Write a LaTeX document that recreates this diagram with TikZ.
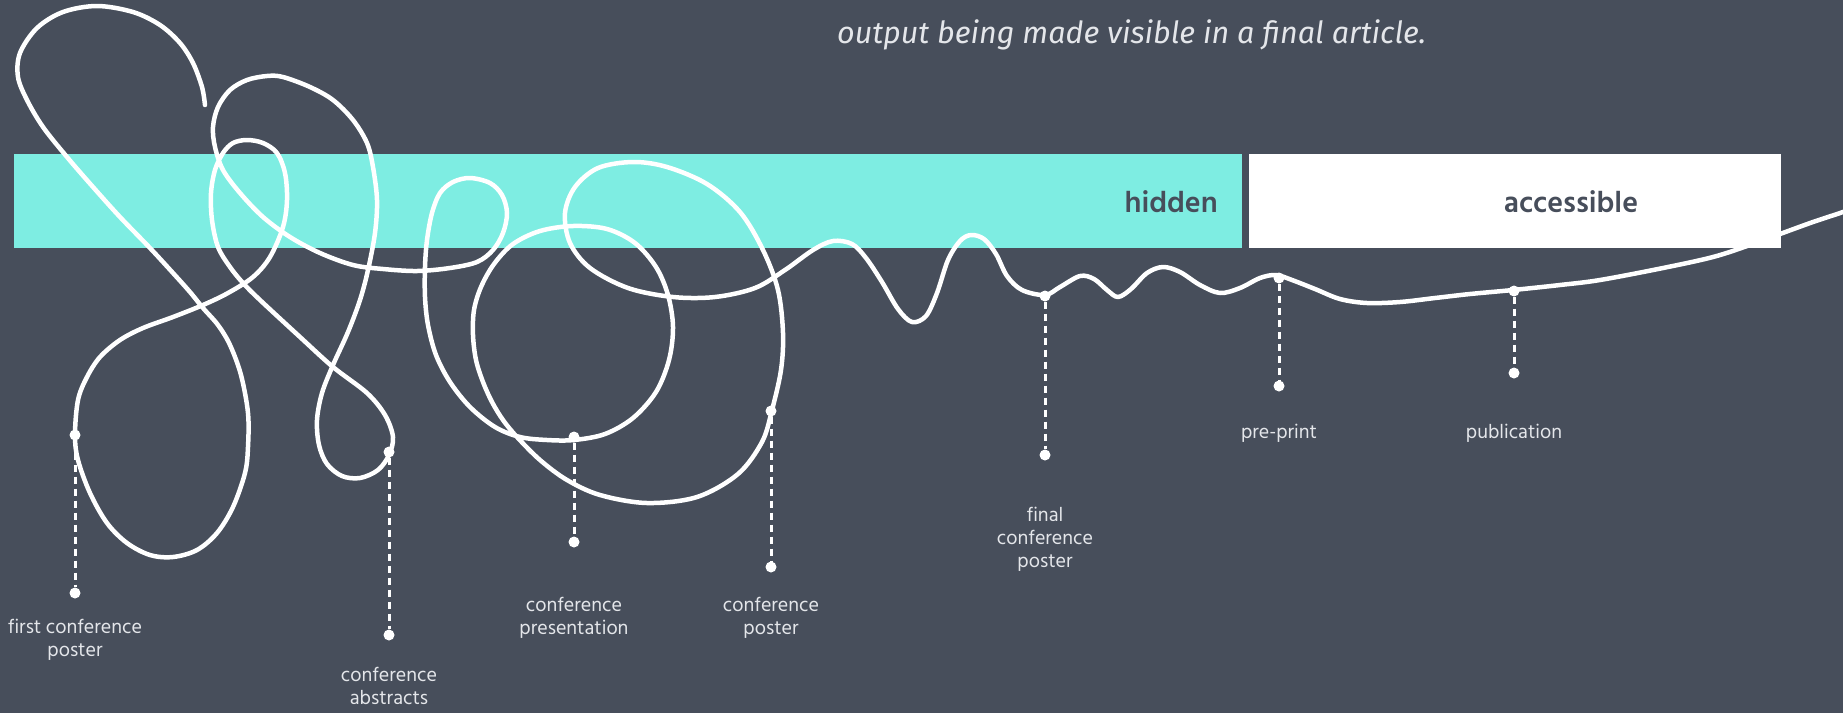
\documentclass[tikz,border=0pt]{standalone}
\usepackage{fontspec}
\setmainfont{Fira Sans}
\newfontfamily\hindf{Hind Siliguri}
\definecolor{bg}{HTML}{474E5B}
\definecolor{cyanbar}{HTML}{7EEDE2}
\definecolor{labelgray}{HTML}{E4E6EA}
\begin{document}
\begin{tikzpicture}[x=1pt,y=-1pt,
  curve/.style={draw=white, line width=4.5pt, line cap=round, line join=round},
  leader/.style={draw=white, line width=3pt, dash pattern=on 7pt off 5pt},
  dot/.style={circle, fill=white, inner sep=0pt, minimum size=11pt},
  lbl/.style={text=labelgray, font=\hindf\fontsize{20}{23}\selectfont, align=center, inner sep=0pt},
  bandtext/.style={text=bg, inner sep=0pt, font=\hindf\bfseries\fontsize{30}{36}\selectfont}
]
\fill[bg] (0,0) rectangle (1843,713);
\path[use as bounding box] (0,0) rectangle (1843,713);
\clip (0,0) rectangle (1843,713);
\fill[cyanbar] (14,154) rectangle (1242,248);
\fill[white] (1249,154) rectangle (1781,248);
\node[bandtext, anchor=base east] (hidden) at (1218,212) {hidden};
\node[bandtext, anchor=base] (accessible) at (1571,212) {accessible};
\node[anchor=base west, text=labelgray, inner sep=0pt, font=\itshape\fontsize{30.5}{36}\selectfont] (note) at (837,43) {output being made visible in a final article.};

\draw[curve] plot[smooth, tension=0.55] coordinates {
 (205,105) (202,87) (193,63) (180,43) (160,25) (133,12) (97,6) (63,12) (37,28) (20,53) (18,77) (27,100) (43,127) (67,157) (93,187) (120,217) (150,248) (173,273) (190,292) (203,308) (218,325) (230,345) (241,375) (248,413) (248,447) (245,473) (233,507) (217,533) (197,550) (173,557) (150,555) (127,543) (107,523) (90,493) (78,460) (75,435) (78,400) (87,377) (100,357) (120,340) (143,328) (173,317) (203,305) (228,293) (253,277) (270,257) (283,227) (287,200) (285,173) (277,153) (263,143) (247,140) (233,143) (223,153) (215,170) (211,193) (212,220) (218,247) (230,267) (243,283) (260,300) (300,337) (333,367) (367,393) (385,415) (393,437) (389,455) (378,470) (360,478) (342,476) (327,464) (319,445) (317,420) (322,393) (333,365) (348,332) (360,300) (368,270) (375,233) (377,200) (373,167) (367,143) (353,120) (333,100) (310,87) (283,77) (267,76) (247,80) (230,90) (218,107) (213,127) (215,147) (223,170) (240,193) (263,217) (290,237) (320,253) (353,265) (383,269) (417,271) (450,268) (477,262) (493,250) (503,233) (507,213) (502,195) (490,183) (470,178) (453,182) (440,193) (432,213) (427,240) (425,267) (425,297) (428,325) (436,355) (450,382) (470,407) (495,427) (520,437) (547,440) (574,440) (605,434) (633,418) (656,392) (669,360) (673,327) (668,295) (656,267) (635,243) (607,229) (573,226) (540,231) (513,244) (494,264) (481,287) (474,310) (473,335) (476,360) (483,382) (492,402) (503,420) (517,437) (540,460) (567,480) (600,495) (647,503) (697,497) (738,474) (762,442) (772,410) (781,370) (783,333) (778,290) (763,250) (740,212) (707,184) (667,167) (633,162) (598,168) (575,187) (565,213) (570,243) (590,268) (628,288) (673,297) (715,297) (755,288) (785,270) (813,250) (833,241) (852,244) (866,258) (882,282) (898,309) (912,322) (926,316) (937,293) (948,260) (960,241) (971,235) (984,239) (996,254) (1007,276) (1022,290) (1045,295) (1060,287) (1080,276) (1094,279) (1107,290) (1118,297) (1131,289) (1147,273) (1163,267) (1180,272) (1200,285) (1220,293) (1240,288) (1260,278) (1276,275) (1292,280) (1315,289) (1340,299) (1367,303) (1400,302) (1435,298) (1470,294) (1513,290) (1560,285) (1600,280) (1663,268) (1713,257) (1750,245) (1780,234) (1813,222) (1843,212) (1870,202)};

% dots on the curve
\node[dot] (t1) at (75,435) {};
\node[dot] (t2) at (389,452) {};
\node[dot] (t3) at (574,437) {};
\node[dot] (t4) at (771,411) {};
\node[dot] (t5) at (1045,296) {};
\node[dot] (t6) at (1279,278) {};
\node[dot] (t7) at (1514,291) {};
% end dots
\node[dot] (b1) at (75,593) {};
\node[dot] (b2) at (389,635) {};
\node[dot] (b3) at (574,542) {};
\node[dot] (b4) at (771,567) {};
\node[dot] (b5) at (1045,455) {};
\node[dot] (b6) at (1279,386) {};
\node[dot] (b7) at (1514,373) {};
\foreach \i in {1,...,7} {\draw[leader] (t\i) -- (b\i);}

\node[lbl] (l1) at (75,640) {first conference\\poster};
\node[lbl] (l2) at (389,686) {conference\\abstracts};
\node[lbl] (l3) at (574,618) {conference\\presentation};
\node[lbl] (l4) at (771,618) {conference\\poster};
\node[lbl] (l5) at (1045,539) {final\\conference\\poster};
\node[lbl] (l6) at (1279,433) {pre-print};
\node[lbl] (l7) at (1514,433) {publication};
\end{tikzpicture}
\end{document}
